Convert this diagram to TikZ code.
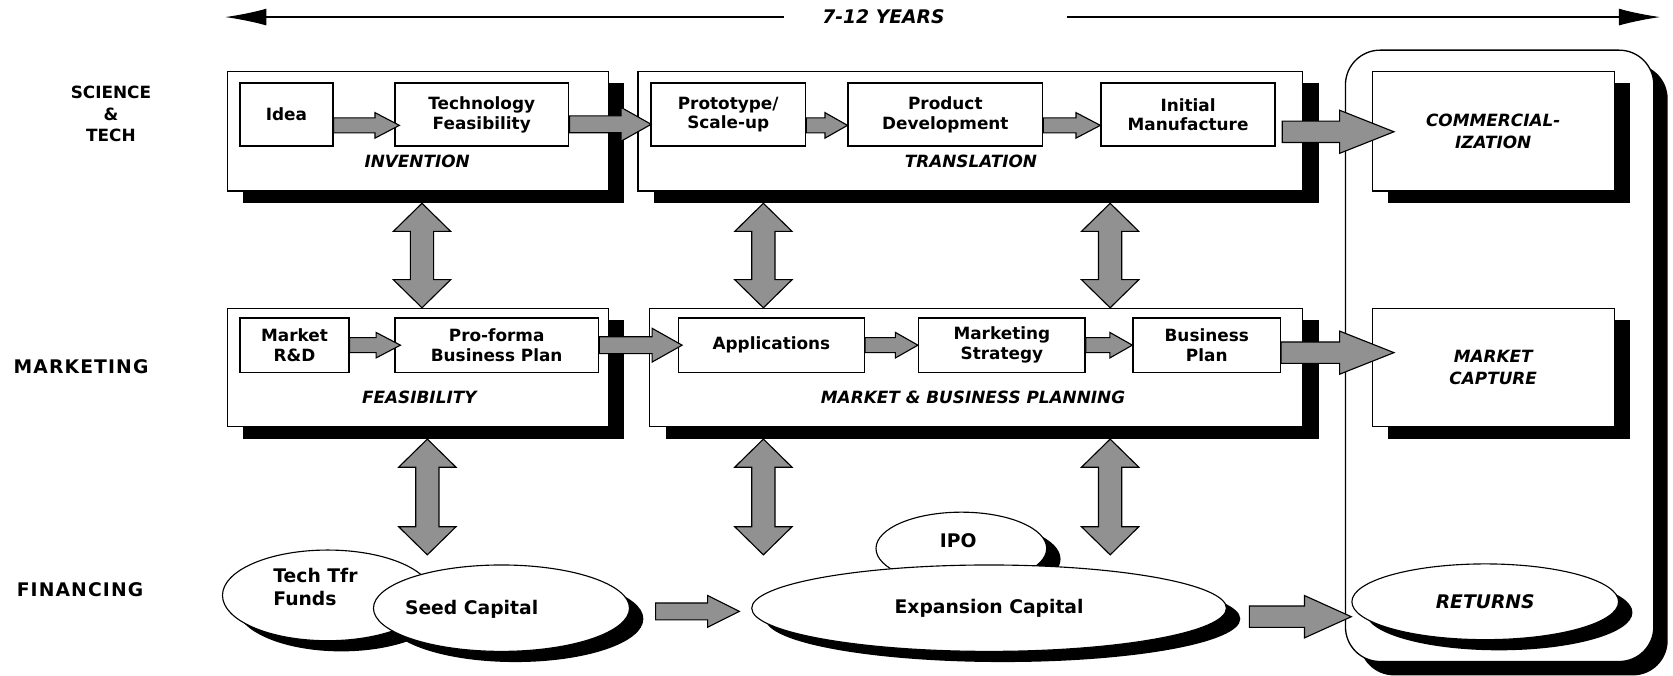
\documentclass[tikz,border=0pt]{standalone}
\usepackage{fontspec}
\setmainfont{DejaVu Sans}
\usetikzlibrary{shadows,calc,arrows.meta,shapes.geometric}
\definecolor{ag}{RGB}{145,145,145}
\newcommand\harrow[5]{%
 \filldraw[blockarrow] let \p1=#1, \p2=#2 in
 (\x1,\y1+#3) -- (\x2-#5,\y1+#3) -- (\x2-#5,\y1+#4) -- (\x2,\y1) -- (\x2-#5,\y1-#4) -- (\x2-#5,\y1-#3) -- (\x1,\y1-#3) -- cycle;}
\newcommand\vdarrow[5]{%
 \filldraw[blockarrow] let \p1=#1, \p2=#2 in
 (\x1,\y1) -- (\x1+#4,\y1-#5) -- (\x1+#3,\y1-#5) -- (\x1+#3,\y2+#5) -- (\x1+#4,\y2+#5) -- (\x1,\y2) -- (\x1-#4,\y2+#5) -- (\x1-#3,\y2+#5) -- (\x1-#3,\y1-#5) -- (\x1-#4,\y1-#5) -- cycle;}
\begin{document}
\begin{tikzpicture}[x=0.02cm, y=-0.02cm,
  rect/.style args={#1,#2,#3,#4}{at={($(#1,#2)!0.5!(#3,#4)$)},
    minimum width={(#3-#1)*0.02cm}, minimum height={(#4-#2)*0.02cm}},
  box/.style={draw, line width=0.6pt, fill=white, inner sep=0pt, align=center,
    font=\fontsize{9}{10.5}\selectfont\bfseries},
  shbox/.style={box, drop shadow={shadow xshift=0.3cm, shadow yshift=-0.22cm, fill=black, opacity=1}},
  inbox/.style={box, line width=0.8pt},
  itbox/.style={shbox, font=\fontsize{9}{12}\selectfont\bfseries\itshape},
  sect/.style={font=\fontsize{9}{10}\selectfont\bfseries\itshape},
  rowlab/.style={align=center, font=\fontsize{9}{11.5}\selectfont\bfseries},
  widelab/.style={font=\fontsize{10}{12}\selectfont\bfseries\addfontfeature{LetterSpace=6}},
  ell/.style={ellipse, draw, fill=white, inner sep=0pt, line width=0.6pt,
    font=\fontsize{10}{12}\selectfont\bfseries,
    drop shadow={shadow xshift=0.26cm, shadow yshift=-0.2cm, fill=black, opacity=1}},
  elltext/.style={font=\fontsize{10}{12}\selectfont\bfseries, align=left},
  blockarrow/.style={fill=ag, draw=black, line width=0.6pt, line join=miter},
  topline/.style={line width=0.7pt, -{Latex[length=22pt,width=9pt]}}
]
\useasboundingbox[fill=white] (0,0) rectangle (1568,633);

% time line
\node[font=\fontsize{10}{12}\selectfont\bfseries\itshape] (yrs) at (828,16) {7-12 YEARS};
\coordinate (tl) at (211,16);
\coordinate (tr) at (1556,16);
\coordinate (gl) at (735,16);
\coordinate (gr) at (1000,16);
\draw[topline] (gl) -- (tl);
\draw[topline] (gr) -- (tr);

% row labels
\node[rowlab] (rl1) at (104,107) {SCIENCE\\\&\\TECH};
\node[widelab] (rl2) at (76,344) {MARKETING};
\node[widelab] (rl3) at (75,553) {FINANCING};

% big rounded outcome box
\node[draw, line width=0.7pt, fill=white, rounded corners=0.65cm, inner sep=0pt,
  rect={1261,47,1550,620},
  drop shadow={shadow xshift=0.26cm, shadow yshift=-0.26cm, fill=black, opacity=1}] (outc) {};

% row 1
\node[shbox, rect={213,67,570,179}] (inv) {};
\node[inbox, rect={225,78,312,137}] (idea) {Idea};
\node[inbox, rect={370,78,533,137}] (tech) {Technology\\Feasibility};
\node[sect] (invl) at (391,151) {INVENTION};
\node[shbox, rect={598,67,1221,179}] (trans) {};
\node[inbox, rect={610,78,755,137}] (proto) {Prototype/\\Scale-up};
\node[inbox, rect={795,78,977,137}] (prod) {Product\\Development};
\node[inbox, rect={1032,78,1195,137}] (init) {Initial\\Manufacture};
\node[sect] (transl) at (910,151) {TRANSLATION};
\node[itbox, rect={1286,67,1513,179}] (comm) {COMMERCIAL-\\IZATION};

% row 2
\node[shbox, rect={213,289,570,400}] (feas) {};
\node[inbox, rect={225,298,327,349}] (mrd) {Market\\R\&D};
\node[inbox, rect={370,298,561,349}] (pfb) {Pro-forma\\Business Plan};
\node[sect] (feasl) at (393,372) {FEASIBILITY};
\node[shbox, rect={609,289,1221,400}] (mbp) {};
\node[inbox, rect={636,298,810,349}] (apps) {Applications};
\node[inbox, rect={861,298,1017,349}] (mstr) {Marketing\\Strategy};
\node[inbox, rect={1062,298,1200,349}] (bplan) {Business\\Plan};
\node[sect] (mbpl) at (912,372) {MARKET \& BUSINESS PLANNING};
\node[itbox, rect={1286,289,1513,400}] (mcap) {MARKET\\CAPTURE};

% row 3
\node[ell, minimum width=3.94cm, minimum height=1.7cm] (ttf) at (307,558) {};
\node[elltext, anchor=west] (ttft) at (250,550) {Tech Tfr\\Funds};
\node[ell, minimum width=4.8cm, minimum height=1.62cm] (seed) at (470,570) {};
\node[elltext] (seedt) at (442,571) {Seed Capital};
\node[ell, minimum width=3.2cm, minimum height=1.36cm] (ipo) at (901,514) {};
\node[elltext] (ipot) at (898,507) {IPO};
\node[ell, minimum width=8.9cm, minimum height=1.62cm] (exp) at (927,570) {Expansion Capital};
\node[ell, minimum width=5cm, minimum height=1.42cm, font=\fontsize{10}{12}\selectfont\bfseries\itshape] (ret) at (1392,564) {RETURNS};

% horizontal block arrows, row 1
\harrow{($(idea.east)+(0,10)$)}{($(tech.west)+(5,0)$)}{4pt}{6.8pt}{13pt}
\harrow{($(tech.east)+(0,9)$)}{($(proto.west)+(1,0)$)}{4.5pt}{9pt}{16pt}
\harrow{($(proto.east)+(0,10)$)}{(prod.west)}{4pt}{6.8pt}{12pt}
\harrow{($(prod.east)+(0,10)$)}{(init.west)}{4pt}{6.8pt}{13pt}
\harrow{($(init.east)+(6,16)$)}{($(comm.west)+(21,0)$)}{5.7pt}{11.5pt}{29pt}
% row 2
\harrow{(mrd.east)}{($(pfb.west)+(6,0)$)}{4pt}{6.8pt}{13pt}
\harrow{(pfb.east)}{($(apps.west)+(4,0)$)}{4.5pt}{9pt}{16pt}
\harrow{(apps.east)}{(mstr.west)}{4pt}{6.8pt}{12pt}
\harrow{(mstr.east)}{(bplan.west)}{4pt}{6.8pt}{12pt}
\harrow{($(bplan.east)+(0,7)$)}{($(mcap.west)+(21,0)$)}{5.7pt}{11.5pt}{29pt}
% row 3
\harrow{($(seed.east)+(24,3)$)}{($(exp.west)+(-11,0)$)}{4.5pt}{8.5pt}{17pt}
\harrow{($(exp.east)+(21,8)$)}{(ret.west)}{5.7pt}{11.3pt}{25pt}

% vertical double arrows
\vdarrow{($(inv.south)+(4,11)$)}{(feas.north)}{6.2pt}{15.3pt}{15pt}
\vdarrow{($(trans.south west)+(118,11)$)}{(mbp.north)}{6.2pt}{15.3pt}{15pt}
\vdarrow{($(trans.south west)+(443,11)$)}{(mbp.north)}{6.2pt}{15.3pt}{15pt}
\coordinate (b1) at (401,520);
\coordinate (b2) at (716,520);
\coordinate (b3) at (1041,520);
\vdarrow{($(feas.south)+(9,11)$)}{(b1)}{6.2pt}{15.3pt}{15pt}
\vdarrow{($(mbp.south west)+(107,11)$)}{(b2)}{6.2pt}{15.3pt}{15pt}
\vdarrow{($(mbp.south west)+(432,11)$)}{(b3)}{6.2pt}{15.3pt}{15pt}
\end{tikzpicture}
\end{document}
